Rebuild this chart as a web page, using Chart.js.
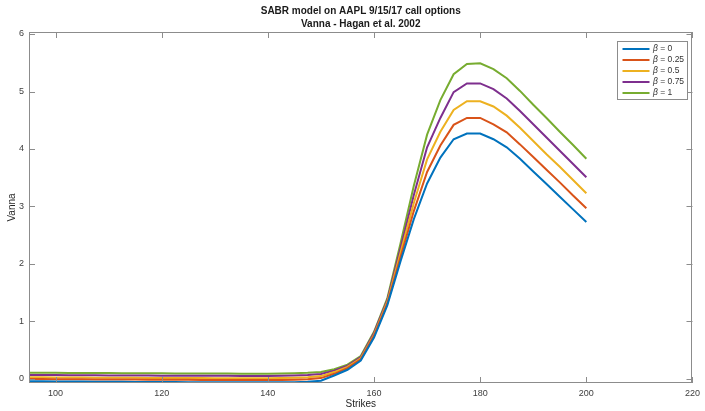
<!DOCTYPE html>
<html><head><meta charset="utf-8">
<script src="https://cdn.jsdelivr.net/npm/chart.js@4/dist/chart.umd.min.js"></script>
<style>html,body{margin:0;padding:0;background:#fff;}#wrap{width:705px;height:411px;}</style>
</head><body><div id="wrap"><canvas id="c" width="705" height="411"></canvas></div>
<script>
const titleLines = ['SABR model on AAPL 9/15/17 call options', 'Vanna - Hagan et al. 2002'];
const xTitle = 'Strikes';
const yTitle = 'Vanna';
const strikes = [95,97.5,100,102.5,105,107.5,110,112.5,115,117.5,120,122.5,125,127.5,130,132.5,135,137.5,140,142.5,145,147.5,150,152.5,155,157.5,160,162.5,165,167.5,170,172.5,175,177.5,180,182.5,185,187.5,190,192.5,195,197.5,200];
const vannaBeta0 = [-0.040,-0.041,-0.043,-0.044,-0.046,-0.047,-0.049,-0.050,-0.051,-0.052,-0.053,-0.054,-0.055,-0.056,-0.057,-0.058,-0.058,-0.059,-0.059,-0.058,-0.055,-0.048,-0.030,0.06,0.16,0.32,0.72,1.28,2.05,2.78,3.40,3.85,4.17,4.27,4.27,4.17,4.03,3.83,3.61,3.39,3.17,2.95,2.73];
const vannaBeta025 = [0.000,-0.001,-0.003,-0.004,-0.006,-0.007,-0.009,-0.010,-0.011,-0.012,-0.013,-0.014,-0.015,-0.016,-0.017,-0.018,-0.018,-0.019,-0.019,-0.017,-0.013,-0.004,0.015,0.09,0.19,0.34,0.75,1.31,2.12,2.92,3.60,4.06,4.42,4.54,4.54,4.43,4.29,4.08,3.86,3.64,3.42,3.19,2.97];
const vannaBeta05 = [0.030,0.029,0.027,0.026,0.024,0.023,0.022,0.021,0.020,0.019,0.018,0.017,0.016,0.015,0.014,0.014,0.013,0.013,0.013,0.015,0.020,0.030,0.050,0.12,0.21,0.36,0.77,1.34,2.20,3.06,3.82,4.30,4.68,4.83,4.83,4.74,4.58,4.37,4.14,3.91,3.69,3.46,3.23];
const vannaBeta075 = [0.070,0.069,0.067,0.066,0.064,0.063,0.062,0.061,0.060,0.059,0.058,0.057,0.056,0.055,0.054,0.054,0.053,0.053,0.053,0.055,0.060,0.070,0.087,0.145,0.23,0.38,0.80,1.37,2.28,3.20,4.03,4.54,4.99,5.14,5.14,5.04,4.88,4.66,4.43,4.20,3.97,3.74,3.51];
const vannaBeta1 = [0.110,0.109,0.107,0.106,0.104,0.103,0.102,0.101,0.100,0.099,0.098,0.097,0.096,0.095,0.094,0.094,0.093,0.093,0.093,0.095,0.100,0.108,0.122,0.17,0.25,0.40,0.82,1.40,2.36,3.36,4.25,4.85,5.30,5.48,5.49,5.39,5.23,5.01,4.77,4.54,4.30,4.07,3.83];
const betaLabels = ['0','0.25','0.5','0.75','1'];
const seriesColors = ['#0072BD','#D95319','#EDB120','#7E2F8E','#77AC30'];
const xTicks = [100,120,140,160,180,200,220];
const yTicks = [0,1,2,3,4,5,6];

const allSeries = [vannaBeta0, vannaBeta025, vannaBeta05, vannaBeta075, vannaBeta1];
const datasets = allSeries.map((vals, i) => ({
  label: 'β = ' + betaLabels[i],
  data: strikes.map((s, j) => ({x: s, y: vals[j]})),
  borderColor: seriesColors[i],
  backgroundColor: seriesColors[i],
  borderWidth: 2,
  pointRadius: 0,
  tension: 0,
  fill: false
}));

const FONT = '"Liberation Sans", Arial, Helvetica, sans-serif';
const AXIS_COLOR = '#8c8c8c';
const TEXT_COLOR = '#404040';

const decor = {
  id: 'decor',
  afterDatasetsDraw(chart) {
    const ctx = chart.ctx;
    const a = chart.chartArea;
    const xs = chart.scales.x, ys = chart.scales.y;
    ctx.save();
    // box
    ctx.strokeStyle = AXIS_COLOR;
    ctx.lineWidth = 1;
    ctx.strokeRect(Math.round(a.left) + 0.5, Math.round(a.top) + 0.5, Math.round(a.right - a.left) - 1, Math.round(a.bottom - a.top) - 1);
    // inward ticks
    const tl = 6;
    ctx.beginPath();
    xTicks.forEach(v => {
      const px = Math.round(xs.getPixelForValue(v)) + 0.5;
      ctx.moveTo(px, a.bottom); ctx.lineTo(px, a.bottom - tl);
      ctx.moveTo(px, a.top); ctx.lineTo(px, a.top + tl);
    });
    yTicks.forEach(v => {
      const py = Math.round(ys.getPixelForValue(v)) + 0.5;
      ctx.moveTo(a.left, py); ctx.lineTo(a.left + tl, py);
      ctx.moveTo(a.right, py); ctx.lineTo(a.right - tl, py);
    });
    ctx.stroke();

    // titles
    const cx = (a.left + a.right) / 2;
    ctx.fillStyle = '#1a1a1a';
    ctx.textAlign = 'center';
    ctx.textBaseline = 'middle';
    ctx.font = 'bold 10px ' + FONT;
    ctx.fillText(titleLines[0], cx, 11);
    ctx.fillText(titleLines[1], cx, 24.5);
    ctx.fillStyle = '#262626';
    ctx.font = '10px ' + FONT;
    ctx.fillText(xTitle, cx, 404);
    ctx.save();
    ctx.translate(12, (a.top + a.bottom) / 2);
    ctx.rotate(-Math.PI / 2);
    ctx.fillText(yTitle, 0, 0);
    ctx.restore();

    // legend
    const lx = 617.5, ly = 41.5, lw = 70, lh = 58;
    ctx.fillStyle = '#ffffff';
    ctx.fillRect(lx, ly, lw, lh);
    ctx.strokeStyle = '#8c8c8c';
    ctx.strokeRect(lx, ly, lw, lh);
    chart.data.datasets.forEach((ds, i) => {
      const y = 49 + i * 11;
      ctx.strokeStyle = ds.borderColor;
      ctx.lineWidth = 2;
      ctx.beginPath();
      ctx.moveTo(622.5, y); ctx.lineTo(649.5, y);
      ctx.stroke();
      ctx.textAlign = 'left';
      ctx.textBaseline = 'middle';
      ctx.fillStyle = '#333333';
      ctx.font = 'italic 8.5px ' + FONT;
      ctx.fillText('β', 653, y);
      const bw = ctx.measureText('β').width;
      ctx.font = '8.5px ' + FONT;
      ctx.fillText(' = ' + betaLabels[i], 653 + bw, y);
    });
    ctx.restore();
  }
};

new Chart(document.getElementById('c'), {
  type: 'line',
  data: { datasets },
  options: {
    responsive: false,
    animation: false,
    devicePixelRatio: 1,
    layout: { padding: { left: 0, top: 32, right: 8, bottom: 0 } },
    plugins: { legend: { display: false }, title: { display: false }, tooltip: { enabled: false } },
    scales: {
      x: {
        type: 'linear', min: 95, max: 220,
        afterBuildTicks: s => { s.ticks = xTicks.map(v => ({ value: v })); },
        afterFit: s => { s.height = 28; },
        grid: { display: false, drawTicks: false },
        border: { display: false },
        ticks: { padding: 5, color: TEXT_COLOR, font: { family: FONT, size: 9 }, maxRotation: 0, autoSkip: false }
      },
      y: {
        type: 'linear', min: -0.07, max: 6.035,
        afterBuildTicks: s => { s.ticks = yTicks.map(v => ({ value: v })); },
        afterFit: s => { s.width = 29; },
        grid: { display: false, drawTicks: false },
        border: { display: false },
        ticks: { padding: 5, color: TEXT_COLOR, font: { family: FONT, size: 9 }, autoSkip: false }
      }
    }
  },
  plugins: [decor]
});
</script>
</body></html>
